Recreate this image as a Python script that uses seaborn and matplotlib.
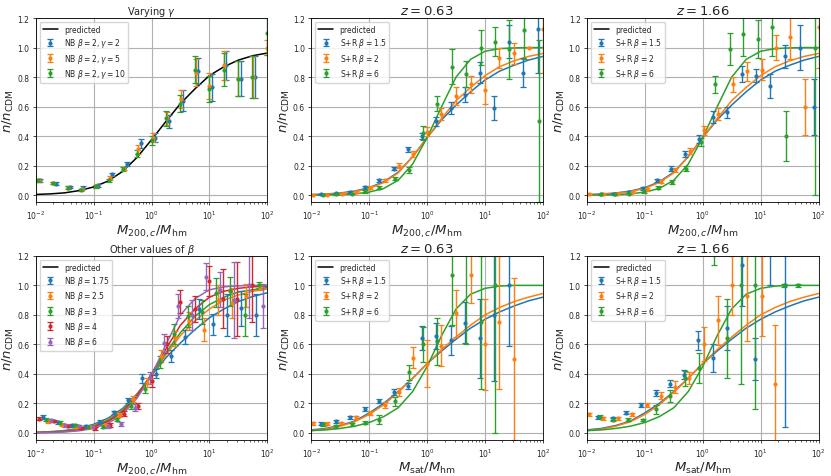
import numpy as np
import matplotlib
matplotlib.use('Agg')
import matplotlib.pyplot as plt
from matplotlib.lines import Line2D
import seaborn as sns

# predicted curves, sampled every 0.25 dex from 1e-2 to 1e2
CURVE_M = [0.01, 0.0178, 0.0316, 0.0562, 0.1, 0.178, 0.316, 0.562, 1.0,
           1.78, 3.16, 5.62, 10.0, 17.8, 31.6, 56.2, 100.0]

pred_nb_b2 = [0.004, 0.008, 0.015, 0.03, 0.055, 0.095, 0.16, 0.255, 0.375,
              0.50, 0.62, 0.72, 0.81, 0.87, 0.915, 0.945, 0.963]

pred_m200_b15 = [0.003, 0.007, 0.014, 0.027, 0.05, 0.09, 0.155, 0.26, 0.39,
                 0.51, 0.61, 0.70, 0.78, 0.84, 0.88, 0.915, 0.94]
pred_m200_b2 = [0.002, 0.005, 0.011, 0.023, 0.045, 0.085, 0.15, 0.26, 0.39,
                0.52, 0.64, 0.73, 0.81, 0.87, 0.91, 0.94, 0.96]
pred_m200_b6 = [0.0, 0.001, 0.003, 0.008, 0.02, 0.045, 0.10, 0.21, 0.39,
                0.60, 0.80, 0.92, 0.975, 0.993, 0.998, 1.0, 1.0]

pred_msat_b15 = [0.02, 0.03, 0.05, 0.08, 0.135, 0.20, 0.28, 0.37, 0.47,
                 0.555, 0.635, 0.71, 0.77, 0.82, 0.86, 0.895, 0.92]
pred_msat_b2 = [0.015, 0.025, 0.045, 0.075, 0.125, 0.19, 0.275, 0.37, 0.47,
                0.565, 0.65, 0.73, 0.80, 0.85, 0.89, 0.92, 0.945]
pred_msat_b6 = [0.015, 0.02, 0.03, 0.045, 0.07, 0.11, 0.17, 0.28, 0.45,
                0.66, 0.84, 0.94, 0.98, 0.995, 1.0, 1.0, 1.0]

pred_nb_b175 = [0.004, 0.008, 0.016, 0.03, 0.058, 0.10, 0.165, 0.265, 0.39,
                0.51, 0.61, 0.70, 0.78, 0.84, 0.89, 0.925, 0.95]
pred_nb_b25 = [0.003, 0.006, 0.012, 0.025, 0.05, 0.09, 0.155, 0.26, 0.39,
               0.53, 0.66, 0.76, 0.84, 0.90, 0.935, 0.96, 0.975]
pred_nb_b3 = [0.002, 0.005, 0.011, 0.022, 0.045, 0.085, 0.15, 0.255, 0.39,
              0.545, 0.68, 0.79, 0.87, 0.92, 0.955, 0.97, 0.985]
pred_nb_b4 = [0.002, 0.004, 0.009, 0.019, 0.04, 0.077, 0.14, 0.25, 0.40,
              0.57, 0.73, 0.84, 0.92, 0.96, 0.98, 0.99, 0.995]
pred_nb_b6 = [0.001, 0.002, 0.006, 0.014, 0.03, 0.065, 0.125, 0.235, 0.39,
              0.60, 0.80, 0.91, 0.97, 0.99, 0.997, 1.0, 1.0]

# --- top left: varying gamma
tl_x_g2 = [0.012, 0.022, 0.039, 0.066, 0.12, 0.21, 0.37, 0.65, 1.16, 2.04, 3.55, 6.3, 10.9, 19.2, 35, 61]
tl_y_g2 = [0.10, 0.078, 0.053, 0.05, 0.065, 0.14, 0.21, 0.35, 0.39, 0.50, 0.64, 0.84, 0.73, 0.88, 0.79, 0.80]
tl_e_g2 = [0.01, 0.008, 0.008, 0.008, 0.01, 0.012, 0.012, 0.03, 0.03, 0.045, 0.07, 0.09, 0.09, 0.10, 0.12, 0.14]
tl_x_g5 = [0.0114, 0.0201, 0.0365, 0.062, 0.112, 0.19, 0.334, 0.58, 1.05, 1.86, 3.24, 5.86, 9.9, 18, 31.7, 56.8, 100]
tl_y_g5 = [0.10, 0.08, 0.05, 0.04, 0.06, 0.115, 0.18, 0.31, 0.39, 0.52, 0.65, 0.83, 0.74, 0.88, 0.79, 0.80, 1.0]
tl_e_g5 = [0.01, 0.008, 0.008, 0.008, 0.01, 0.012, 0.012, 0.03, 0.03, 0.045, 0.06, 0.09, 0.09, 0.10, 0.12, 0.14, 0.05]
tl_x_g10 = [0.0111, 0.0196, 0.0356, 0.060, 0.109, 0.185, 0.326, 0.567, 1.02, 1.81, 3.16, 5.7, 9.7, 17.5, 31, 55, 97]
tl_y_g10 = [0.10, 0.08, 0.05, 0.035, 0.06, 0.10, 0.175, 0.28, 0.37, 0.52, 0.62, 0.85, 0.72, 0.85, 0.79, 0.80, 1.1]
tl_e_g10 = [0.01, 0.008, 0.008, 0.008, 0.01, 0.012, 0.015, 0.025, 0.03, 0.05, 0.06, 0.09, 0.09, 0.11, 0.12, 0.14, 0.15]

# --- top middle: z=0.63, M200c
tm_x_15 = [0.0149, 0.0265, 0.0465, 0.0847, 0.150, 0.263, 0.468, 0.818, 1.45, 2.55, 4.52, 8.13, 14.4, 25.6, 46.1, 81.8]
tm_y_15 = [0.005, 0.012, 0.02, 0.054, 0.10, 0.18, 0.31, 0.40, 0.50, 0.59, 0.68, 0.83, 0.59, 1.04, 0.83, 1.125]
tm_e_15 = [0.005, 0.005, 0.005, 0.01, 0.01, 0.01, 0.015, 0.02, 0.03, 0.04, 0.05, 0.07, 0.08, 0.11, 0.10, 0.3]
tm_x_2 = [0.0107, 0.019, 0.0332, 0.0582, 0.103, 0.184, 0.321, 0.571, 1.0, 1.77, 3.19, 5.67, 10.1, 17.6, 31.3, 57.1, 100]
tm_y_2 = [0.0, 0.0, 0.01, 0.02, 0.05, 0.10, 0.20, 0.28, 0.43, 0.55, 0.67, 0.75, 0.71, 0.93, 0.96, 1.0, 1.125]
tm_e_2 = [0.003, 0.003, 0.005, 0.005, 0.01, 0.01, 0.015, 0.02, 0.03, 0.04, 0.06, 0.06, 0.09, 0.07, 0.07, 0.005, 0.3]
tm_x_6 = [0.016, 0.027, 0.0497, 0.0847, 0.150, 0.274, 0.480, 0.842, 1.49, 2.65, 4.64, 8.47, 14.8, 26.3, 48.0, 85.1]
tm_y_6 = [0.002, 0.005, 0.01, 0.025, 0.05, 0.11, 0.17, 0.42, 0.62, 0.87, 0.82, 1.0, 1.04, 0.99, 1.12, 0.5]
tm_e_6 = [0.003, 0.005, 0.005, 0.01, 0.01, 0.01, 0.02, 0.05, 0.05, 0.12, 0.09, 0.12, 0.10, 0.2, 0.2, 0.55]

# --- top right: z=1.66, M200c
tr_x_15 = [0.0176, 0.0299, 0.0527, 0.0942, 0.162, 0.282, 0.497, 0.865, 1.52, 2.65, 4.68, 8.37, 14.8, 26.0, 47.1, 82.0]
tr_y_15 = [0.005, 0.01, 0.02, 0.045, 0.10, 0.18, 0.28, 0.38, 0.53, 0.56, 0.82, 0.81, 0.74, 0.94, 1.0, 0.60]
tr_e_15 = [0.005, 0.005, 0.005, 0.01, 0.01, 0.015, 0.02, 0.03, 0.04, 0.04, 0.055, 0.045, 0.08, 0.08, 0.15, 0.19]
tr_x_2 = [0.0107, 0.0188, 0.0332, 0.0594, 0.108, 0.190, 0.330, 0.598, 1.05, 1.84, 3.32, 5.86, 10.6, 18.7, 32.6, 57.4, 100]
tr_y_2 = [0.005, 0.01, 0.01, 0.02, 0.04, 0.09, 0.17, 0.30, 0.44, 0.55, 0.75, 0.84, 0.85, 1.0, 1.07, 0.60, 1.14]
tr_e_2 = [0.005, 0.005, 0.005, 0.005, 0.01, 0.01, 0.015, 0.02, 0.03, 0.04, 0.05, 0.065, 0.07, 0.085, 0.15, 0.19, 0.28]
tr_x_6 = [0.0176, 0.0307, 0.0542, 0.0955, 0.171, 0.293, 0.511, 0.924, 1.65, 2.91, 5.0, 8.93, 15.8, 27.8, 87.7]
tr_y_6 = [0.005, 0.005, 0.01, 0.025, 0.05, 0.09, 0.18, 0.36, 0.75, 0.99, 1.09, 1.06, 1.14, 0.40, 1.0]
tr_e_6 = [0.003, 0.005, 0.005, 0.01, 0.01, 0.015, 0.02, 0.03, 0.055, 0.11, 0.15, 0.13, 0.2, 0.17, 1.0]

# --- bottom left: other betas
bl_x_175 = [0.0135, 0.024, 0.0427, 0.0741, 0.129, 0.224, 0.389, 0.692, 1.2, 2.14, 3.72, 6.61, 11.5, 20.4, 35.5, 63.1]
bl_y_175 = [0.106, 0.072, 0.05, 0.048, 0.075, 0.138, 0.22, 0.37, 0.40, 0.52, 0.65, 0.84, 0.735, 0.80, 0.845, 0.80]
bl_e_175 = [0.012, 0.01, 0.008, 0.008, 0.01, 0.012, 0.015, 0.03, 0.03, 0.04, 0.05, 0.07, 0.07, 0.14, 0.12, 0.14]
bl_x_25 = [0.0162, 0.0288, 0.0501, 0.0871, 0.155, 0.269, 0.479, 0.832, 1.45, 2.57, 4.47, 7.94, 13.8, 24.5, 42.7, 75.9]
bl_y_25 = [0.08, 0.056, 0.04, 0.04, 0.05, 0.12, 0.23, 0.34, 0.52, 0.64, 0.76, 0.70, 0.90, 0.88, 0.93, 0.99]
bl_e_25 = [0.01, 0.008, 0.008, 0.008, 0.01, 0.012, 0.02, 0.03, 0.04, 0.05, 0.06, 0.08, 0.10, 0.10, 0.08, 0.02]
bl_x_3 = [0.0148, 0.0263, 0.0468, 0.0813, 0.145, 0.251, 0.447, 0.776, 1.38, 2.40, 4.27, 7.41, 13.2, 22.9, 40.7, 70.8]
bl_y_3 = [0.09, 0.07, 0.05, 0.04, 0.04, 0.09, 0.18, 0.30, 0.48, 0.67, 0.79, 0.82, 0.95, 0.96, 0.80, 1.0]
bl_e_3 = [0.01, 0.008, 0.008, 0.008, 0.01, 0.012, 0.02, 0.03, 0.04, 0.07, 0.07, 0.08, 0.10, 0.10, 0.14, 0.02]
bl_x_4 = [0.0115, 0.0204, 0.0355, 0.0617, 0.107, 0.191, 0.331, 0.589, 1.02, 1.82, 3.16, 5.62, 9.77, 17.4, 30.2, 53.7]
bl_y_4 = [0.097, 0.079, 0.047, 0.035, 0.03, 0.055, 0.13, 0.18, 0.35, 0.60, 0.89, 0.84, 1.03, 0.91, 0.91, 1.0]
bl_e_4 = [0.01, 0.008, 0.008, 0.008, 0.01, 0.012, 0.015, 0.02, 0.04, 0.06, 0.08, 0.09, 0.10, 0.20, 0.25, 0.25]
bl_x_6 = [0.0182, 0.0316, 0.0562, 0.0977, 0.174, 0.302, 0.525, 0.933, 1.62, 2.88, 5.01, 8.71, 15.5, 26.9, 47.9, 83.2]
bl_y_6 = [0.084, 0.05, 0.045, 0.04, 0.045, 0.06, 0.17, 0.37, 0.61, 0.86, 0.80, 1.06, 0.97, 0.90, 1.0, 0.86]
bl_e_6 = [0.01, 0.008, 0.008, 0.008, 0.01, 0.012, 0.025, 0.04, 0.06, 0.08, 0.10, 0.09, 0.12, 0.26, 0.22, 0.15]

# --- bottom middle: z=0.63, Msat
bm_x_15 = [0.0149, 0.0265, 0.0465, 0.0847, 0.150, 0.263, 0.468, 0.818, 1.45, 2.55, 4.52, 8.13, 14.4, 25.6]
bm_y_15 = [0.063, 0.077, 0.106, 0.16, 0.215, 0.276, 0.317, 0.643, 0.657, 0.627, 0.747, 0.64, 0.80, 1.0]
bm_e_15 = [0.01, 0.01, 0.01, 0.015, 0.015, 0.02, 0.02, 0.08, 0.09, 0.10, 0.14, 0.27, 0.45, 0.41]
bm_x_2 = [0.0107, 0.019, 0.033, 0.058, 0.103, 0.184, 0.321, 0.571, 1.0, 1.77, 3.19, 5.67, 10.1, 17.6, 31.3]
bm_y_2 = [0.066, 0.061, 0.066, 0.105, 0.134, 0.186, 0.277, 0.51, 0.47, 0.59, 0.81, 1.07, 0.60, 0.75, 0.50]
bm_e_2 = [0.01, 0.01, 0.01, 0.01, 0.015, 0.02, 0.025, 0.07, 0.16, 0.14, 0.16, 0.19, 0.31, 0.45, 0.55]
bm_x_6 = [0.016, 0.027, 0.05, 0.085, 0.15, 0.274, 0.48, 0.84, 1.49, 2.65, 4.64, 8.47, 14.8]
bm_y_6 = [0.057, 0.045, 0.057, 0.068, 0.09, 0.215, 0.41, 0.60, 0.62, 1.07, 1.3, 0.75, 1.0]
bm_e_6 = [0.01, 0.01, 0.01, 0.01, 0.03, 0.03, 0.05, 0.12, 0.16, 0.34, 0.7, 0.45, 1.0]

# --- bottom right: z=1.66, Msat
br_x_15 = [0.0155, 0.028, 0.048, 0.087, 0.155, 0.27, 0.48, 0.83, 1.5, 2.6, 4.7, 8.1, 14.5, 26]
br_y_15 = [0.106, 0.10, 0.136, 0.19, 0.27, 0.333, 0.394, 0.627, 0.507, 0.71, 1.14, 0.50, 1.3, 1.0]
br_e_15 = [0.01, 0.01, 0.01, 0.015, 0.02, 0.025, 0.03, 0.065, 0.095, 0.15, 0.28, 0.14, 0.3, 0.96]
br_x_2 = [0.011, 0.019, 0.035, 0.06, 0.107, 0.187, 0.33, 0.58, 1.05, 1.85, 3.2, 5.75, 10.5, 18]
br_y_2 = [0.125, 0.10, 0.10, 0.125, 0.19, 0.253, 0.31, 0.37, 0.605, 0.763, 1.0, 0.93, 0.93, 0.333]
br_e_2 = [0.01, 0.01, 0.01, 0.01, 0.015, 0.025, 0.04, 0.04, 0.115, 0.165, 0.2, 0.31, 0.27, 0.4]
br_x_6 = [0.0165, 0.028, 0.051, 0.093, 0.158, 0.275, 0.49, 0.87, 1.55, 2.6, 4.6, 7.9, 25, 45]
br_y_6 = [0.11, 0.088, 0.09, 0.087, 0.16, 0.25, 0.37, 0.44, 1.25, 0.64, 1.0, 1.0, 1.0, 1.0]
br_e_6 = [0.01, 0.01, 0.01, 0.01, 0.03, 0.04, 0.05, 0.10, 0.11, 0.27, 0.67, 0.84, 0.01, 0.01]

SR_LABELS = [r'S+R $\beta=1.5$', r'S+R $\beta=2$', r'S+R $\beta=6$']

sns.set_style('ticks')
plt.rcParams['font.family'] = ['DejaVu Sans']
plt.rcParams['mathtext.fontset'] = 'dejavusans'
pal = sns.color_palette('tab10')

fig, axes = plt.subplots(2, 3, figsize=(8.31, 4.77), dpi=100)
fig.subplots_adjust(left=0.043, right=0.985, bottom=0.075, top=0.96,
                    wspace=0.19, hspace=0.29)


def draw_panel(ax, curves, series, title, title_size, xlabel):
    # curves: list of (values, color); series: list of (x, y, err, color, label)
    for vals, col in curves:
        sns.lineplot(x=CURVE_M, y=vals, color=col, lw=1.1, ax=ax, legend=False)
    handles = [Line2D([], [], color='black', lw=1.1, label='predicted')]
    for x, y, e, col, lab in series:
        h = ax.errorbar(x, y, yerr=e, fmt='o', ms=2.0, color=col, ecolor=col,
                        elinewidth=1.0, capsize=2.2, capthick=0.9, label=lab)
        handles.append(h)
    ax.set_xscale('log')
    ax.set_xlim(1e-2, 1e2)
    ax.set_ylim(-0.05, 1.2)
    ax.set_yticks([0.0, 0.2, 0.4, 0.6, 0.8, 1.0, 1.2])
    ax.grid(True, which='major', color='#b0b0b0', lw=0.8)
    ax.tick_params(labelsize=5.5, length=2.5, width=0.6, pad=2)
    ax.tick_params(which='minor', length=1.5, width=0.5)
    for sp in ax.spines.values():
        sp.set_color('black')
        sp.set_linewidth(0.6)
    ax.set_title(title, fontsize=title_size, pad=3)
    ax.set_xlabel(xlabel, fontsize=9.5, labelpad=1)
    ax.set_ylabel(r'$n/n_{\rm CDM}$', fontsize=9.5, labelpad=1)
    ax.legend(handles=handles, loc='upper left', fontsize=5.5, handlelength=2,
              borderpad=0.4, labelspacing=0.3, framealpha=0.8)


xl_m200 = r'$M_{200,c}/M_{\rm hm}$'
xl_msat = r'$M_{\rm sat}/M_{\rm hm}$'

draw_panel(axes[0, 0], [(pred_nb_b2, 'black')],
           [(tl_x_g2, tl_y_g2, tl_e_g2, pal[0], r'NB $\beta=2, \gamma=2$'),
            (tl_x_g5, tl_y_g5, tl_e_g5, pal[1], r'NB $\beta=2, \gamma=5$'),
            (tl_x_g10, tl_y_g10, tl_e_g10, pal[2], r'NB $\beta=2, \gamma=10$')],
           r'Varying $\gamma$', 7, xl_m200)

m200_curves = [(pred_m200_b15, pal[0]), (pred_m200_b2, pal[1]), (pred_m200_b6, pal[2])]
draw_panel(axes[0, 1], m200_curves,
           [(tm_x_15, tm_y_15, tm_e_15, pal[0], SR_LABELS[0]),
            (tm_x_2, tm_y_2, tm_e_2, pal[1], SR_LABELS[1]),
            (tm_x_6, tm_y_6, tm_e_6, pal[2], SR_LABELS[2])],
           r'$z=0.63$', 9.5, xl_m200)
draw_panel(axes[0, 2], m200_curves,
           [(tr_x_15, tr_y_15, tr_e_15, pal[0], SR_LABELS[0]),
            (tr_x_2, tr_y_2, tr_e_2, pal[1], SR_LABELS[1]),
            (tr_x_6, tr_y_6, tr_e_6, pal[2], SR_LABELS[2])],
           r'$z=1.66$', 9.5, xl_m200)

draw_panel(axes[1, 0],
           [(pred_nb_b175, pal[0]), (pred_nb_b25, pal[1]), (pred_nb_b3, pal[2]),
            (pred_nb_b4, pal[3]), (pred_nb_b6, pal[4])],
           [(bl_x_175, bl_y_175, bl_e_175, pal[0], r'NB $\beta=1.75$'),
            (bl_x_25, bl_y_25, bl_e_25, pal[1], r'NB $\beta=2.5$'),
            (bl_x_3, bl_y_3, bl_e_3, pal[2], r'NB $\beta=3$'),
            (bl_x_4, bl_y_4, bl_e_4, pal[3], r'NB $\beta=4$'),
            (bl_x_6, bl_y_6, bl_e_6, pal[4], r'NB $\beta=6$')],
           r'Other values of $\beta$', 7, xl_m200)

msat_curves = [(pred_msat_b15, pal[0]), (pred_msat_b2, pal[1]), (pred_msat_b6, pal[2])]
draw_panel(axes[1, 1], msat_curves,
           [(bm_x_15, bm_y_15, bm_e_15, pal[0], SR_LABELS[0]),
            (bm_x_2, bm_y_2, bm_e_2, pal[1], SR_LABELS[1]),
            (bm_x_6, bm_y_6, bm_e_6, pal[2], SR_LABELS[2])],
           r'$z=0.63$', 9.5, xl_msat)
draw_panel(axes[1, 2], msat_curves,
           [(br_x_15, br_y_15, br_e_15, pal[0], SR_LABELS[0]),
            (br_x_2, br_y_2, br_e_2, pal[1], SR_LABELS[1]),
            (br_x_6, br_y_6, br_e_6, pal[2], SR_LABELS[2])],
           r'$z=1.66$', 9.5, xl_msat)

fig.savefig('out.png', dpi=100)
